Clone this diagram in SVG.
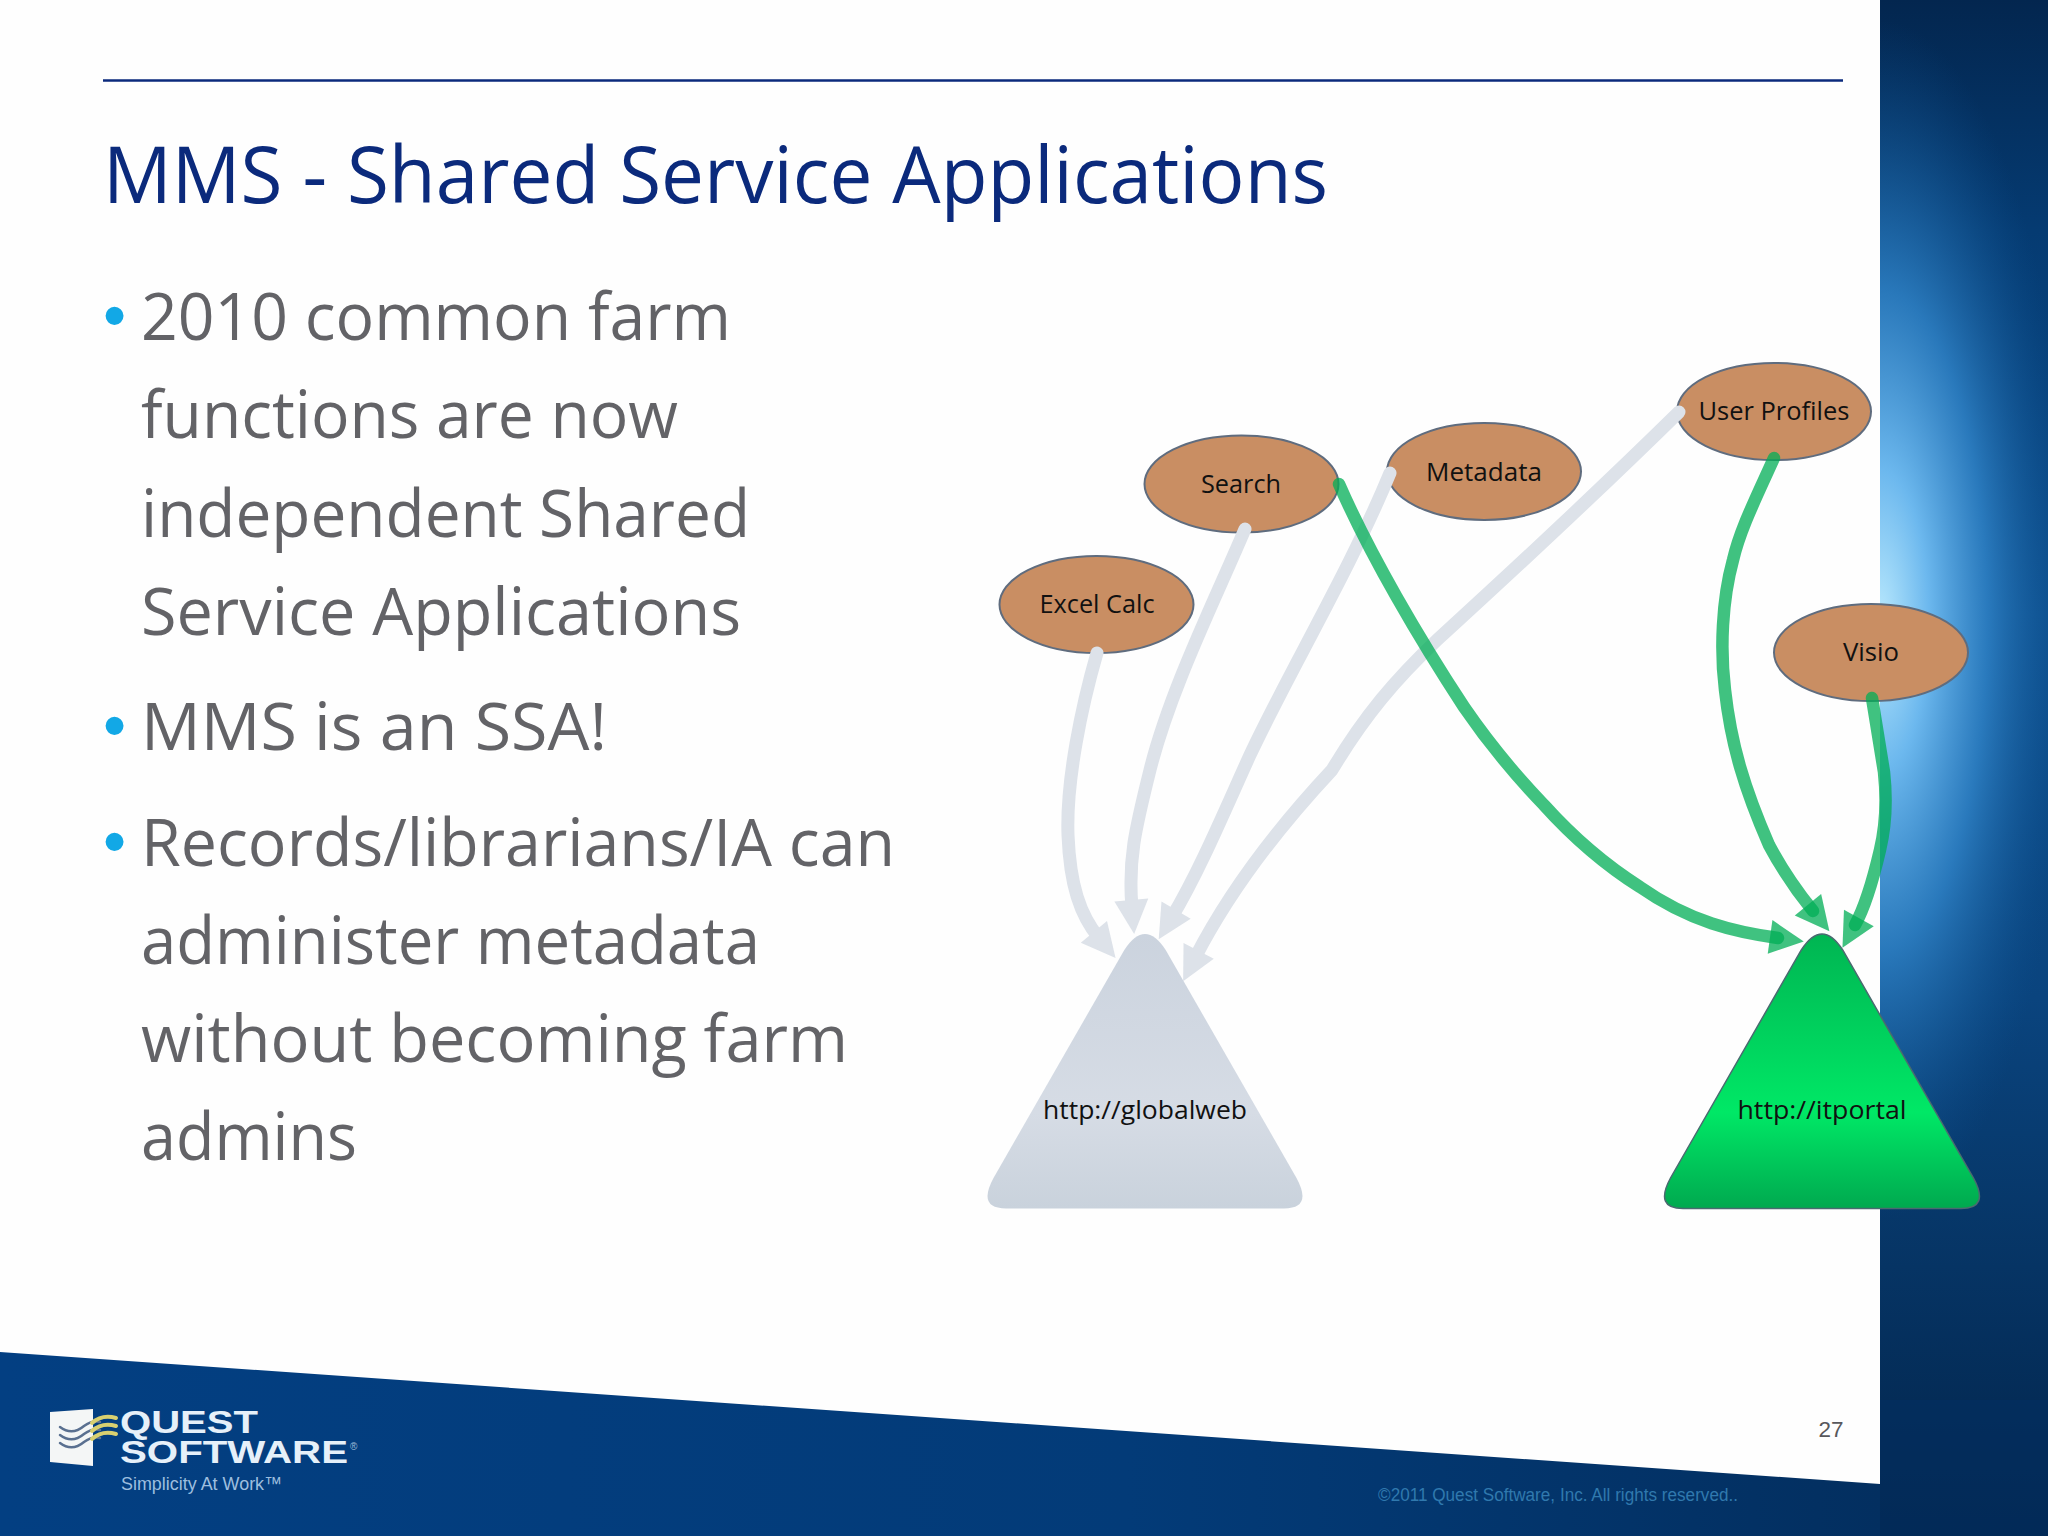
<svg xmlns="http://www.w3.org/2000/svg" width="2048" height="1536" viewBox="0 0 2048 1536">
<style>
.title{font:78px "Open Sans","Noto Sans",sans-serif;fill:#0b2a7c}
.body{font:66px "Open Sans","Noto Sans",sans-serif;fill:#636367}
.bul{font:66px "Liberation Sans",sans-serif;fill:#12a8e6}
.n{fill:#c98e63;stroke:#5f6c7e;stroke-width:2}
.t{font:26px "Open Sans","Noto Sans",sans-serif;fill:#111;text-anchor:middle}
.g{fill:none;stroke:#dde2e9;stroke-width:13;stroke-linecap:round;stroke-linejoin:round}
.v{fill:none;stroke:#00ad56;stroke-opacity:.75;stroke-width:12.500;stroke-linecap:round;stroke-linejoin:round}
</style>
<defs>
<linearGradient id="band" x1="0" y1="0" x2="0" y2="1"><stop offset="0" stop-color="#03264f"/><stop offset=".15" stop-color="#053b72"/><stop offset=".4" stop-color="#0c4f8e"/><stop offset=".65" stop-color="#0a447e"/><stop offset="1" stop-color="#02244a"/></linearGradient>
<radialGradient id="glow" gradientUnits="userSpaceOnUse" cx="0" cy="0" r="1" gradientTransform="translate(1880 620) scale(195 600)"><stop offset="0" stop-color="#b8e8fd"/><stop offset=".25" stop-color="#6cb8ee"/><stop offset=".55" stop-color="#2f82c6" stop-opacity=".85"/><stop offset="1" stop-color="#0c4f8e" stop-opacity="0"/></radialGradient>
<linearGradient id="foot" x1="0" y1="0" x2="1" y2="0"><stop offset="0" stop-color="#033f82"/><stop offset=".6" stop-color="#033b78"/><stop offset="1" stop-color="#032f60"/></linearGradient>
<linearGradient id="gr" x1="0" y1="0" x2="0" y2="1"><stop offset="0" stop-color="#00b552"/><stop offset=".65" stop-color="#00e866"/><stop offset="1" stop-color="#00a94f"/></linearGradient>
<linearGradient id="gy" x1="0" y1="0" x2="0" y2="1"><stop offset="0" stop-color="#cbd3de"/><stop offset=".65" stop-color="#d6dce5"/><stop offset="1" stop-color="#c9d2dc"/></linearGradient>
<marker id="ag" markerUnits="userSpaceOnUse" markerWidth="44" markerHeight="44" viewBox="0 -22 44 44" refX="8" refY="0" orient="auto" overflow="visible"><path d="M0,-17L34,0L0,17Z" fill="#dde2e9"/></marker>
<marker id="av" markerUnits="userSpaceOnUse" markerWidth="44" markerHeight="44" viewBox="0 -22 44 44" refX="8" refY="0" orient="auto" overflow="visible"><path d="M0,-17L34,0L0,17Z" fill="#00ad56" fill-opacity=".75"/></marker>
</defs>
<rect width="2048" height="1536" fill="#fefefe"/>
<g id="background">
<rect x="1880" width="168" height="1536" fill="url(#band)"/>
<rect x="1880" width="168" height="1536" fill="url(#glow)"/>
<path d="M0,1352L1880,1484L1880,1536L0,1536Z" fill="url(#foot)"/>
<rect x="1880" y="1400" width="168" height="136" fill="#032f60" opacity=".6"/>
</g>
<path id="rule" d="M103,80.500H1843" stroke="#0b2a7c" stroke-width="2.500" fill="none"/>
<text class="title" x="103" y="203" textLength="1225" lengthAdjust="spacingAndGlyphs">MMS - Shared Service Applications</text>
<g id="bullets">
<text class="bul" x="103" y="338">•</text>
<text class="bul" x="103" y="748">•</text>
<text class="bul" x="103" y="864">•</text>
<text class="body" x="141" y="340" textLength="590" lengthAdjust="spacingAndGlyphs">2010 common farm</text>
<text class="body" x="141" y="438" textLength="537" lengthAdjust="spacingAndGlyphs">functions are now</text>
<text class="body" x="141" y="537" textLength="609" lengthAdjust="spacingAndGlyphs">independent Shared</text>
<text class="body" x="141" y="635" textLength="600" lengthAdjust="spacingAndGlyphs">Service Applications</text>
<text class="body" x="141" y="750" textLength="466" lengthAdjust="spacingAndGlyphs">MMS is an SSA!</text>
<text class="body" x="141" y="866" textLength="754" lengthAdjust="spacingAndGlyphs">Records/librarians/IA can</text>
<text class="body" x="141" y="964" textLength="619" lengthAdjust="spacingAndGlyphs">administer metadata</text>
<text class="body" x="141" y="1062" textLength="707" lengthAdjust="spacingAndGlyphs">without becoming farm</text>
<text class="body" x="141" y="1160" textLength="216" lengthAdjust="spacingAndGlyphs">admins</text>
</g>
<g id="globalweb"><path d="M1124.300,950Q1145,918 1165.700,950L1296.500,1178Q1313,1208.500 1284,1208.500H1006Q977,1208.500 993.500,1178Z" fill="url(#gy)"/><text class="t" x="1145" y="1119" textLength="204" lengthAdjust="spacingAndGlyphs">http://globalweb</text></g>
<g id="itportal"><path d="M1801.300,950Q1822,918 1842.700,950L1973.500,1178Q1990,1208.500 1961,1208.500H1683Q1654,1208.500 1670.500,1178Z" fill="url(#gr)" stroke="#4a6a70" stroke-width="1.500"/><text class="t" x="1822" y="1119" textLength="169" lengthAdjust="spacingAndGlyphs">http://itportal</text></g>
<g id="excel"><ellipse class="n" cx="1096.500" cy="604.500" rx="97" ry="48.500"/><text class="t" x="1097" y="613" textLength="115" lengthAdjust="spacingAndGlyphs">Excel Calc</text></g>
<g id="search"><ellipse class="n" cx="1241.500" cy="484" rx="97" ry="48.500"/><text class="t" x="1241" y="493" textLength="80" lengthAdjust="spacingAndGlyphs">Search</text></g>
<g id="metadata"><ellipse class="n" cx="1484" cy="471.500" rx="97" ry="48.500"/><text class="t" x="1484" y="481" textLength="116" lengthAdjust="spacingAndGlyphs">Metadata</text></g>
<g id="userprofiles"><ellipse class="n" cx="1774" cy="411.500" rx="97" ry="48.500"/><text class="t" x="1774" y="420" textLength="151" lengthAdjust="spacingAndGlyphs">User Profiles</text></g>
<g id="visio"><ellipse class="n" cx="1871" cy="652.500" rx="97" ry="48.500"/><text class="t" x="1871" y="661" textLength="56" lengthAdjust="spacingAndGlyphs">Visio</text></g>
<g id="connectors">
<path class="g" marker-end="url(#ag)" d="M1097,653C1082,705 1066,780 1068,835C1070,885 1080,915 1099,938"/>
<path class="g" marker-end="url(#ag)" d="M1245,529C1215,600 1170,690 1150,770C1135,830 1128,860 1132,908"/>
<path class="g" marker-end="url(#ag)" d="M1390,473C1350,570 1290,670 1250,755C1225,810 1200,870 1172,917"/>
<path class="g" marker-end="url(#ag)" d="M1679,412C1620,470 1530,555 1437,640C1395,680 1365,715 1332,770C1290,815 1235,880 1195,958"/>
<path class="v" marker-end="url(#av)" d="M1339,484C1370,555 1420,640 1464,707C1490,745 1520,780 1544,805C1580,845 1610,868 1640,887C1690,922 1735,932 1778,938"/>
<path class="v" marker-end="url(#av)" d="M1774,458C1755,500 1740,530 1733,560C1722,600 1720,650 1725,690C1731,745 1745,790 1769,845C1785,875 1800,895 1813,911"/>
<path class="v" marker-end="url(#av)" d="M1872,698L1884,772C1887,800 1886,825 1880,850C1873,880 1866,905 1855,925"/>
</g>
<g id="logo">
<path d="M50,1412L93,1409V1466L50,1462Z" fill="#f4f6f6"/>
<g fill="none" stroke-width="2.500" stroke-linecap="round"><path d="M60,1427Q72,1436 84,1426Q92,1420 100,1422" stroke="#5a7090"/><path d="M60,1435Q72,1444 84,1434Q92,1428 100,1430" stroke="#5a7090"/><path d="M60,1443Q72,1452 84,1442Q92,1436 100,1438" stroke="#5a7090"/><path d="M92,1423Q102,1414 116,1418" stroke="#d8d070" stroke-width="4"/><path d="M92,1431Q102,1422 116,1426" stroke="#d8d070" stroke-width="4"/><path d="M92,1439Q102,1430 116,1434" stroke="#d8d070" stroke-width="4"/></g>
<text x="120" y="1433" font-family="Liberation Sans,sans-serif" font-weight="700" font-size="31" fill="#e6f0f9" textLength="138" lengthAdjust="spacingAndGlyphs">QUEST</text>
<text x="120" y="1463" font-family="Liberation Sans,sans-serif" font-weight="700" font-size="31" fill="#e6f0f9" textLength="228" lengthAdjust="spacingAndGlyphs">SOFTWARE</text>
<text x="350" y="1450" font-family="Liberation Sans,sans-serif" font-size="10" fill="#9fbcd8">®</text>
<text x="121" y="1490" font-family="Liberation Sans,sans-serif" font-size="19" fill="#9dbedf" textLength="161" lengthAdjust="spacingAndGlyphs">Simplicity At Work™</text>
</g>
<text x="1818.500" y="1437" font-family="Liberation Sans,sans-serif" font-size="22" fill="#58585c" textLength="25" lengthAdjust="spacingAndGlyphs">27</text>
<text x="1378" y="1501" font-family="Liberation Sans,sans-serif" font-size="17.500" fill="#3079ae" textLength="360" lengthAdjust="spacingAndGlyphs">©2011 Quest Software, Inc. All rights reserved..</text>
</svg>
